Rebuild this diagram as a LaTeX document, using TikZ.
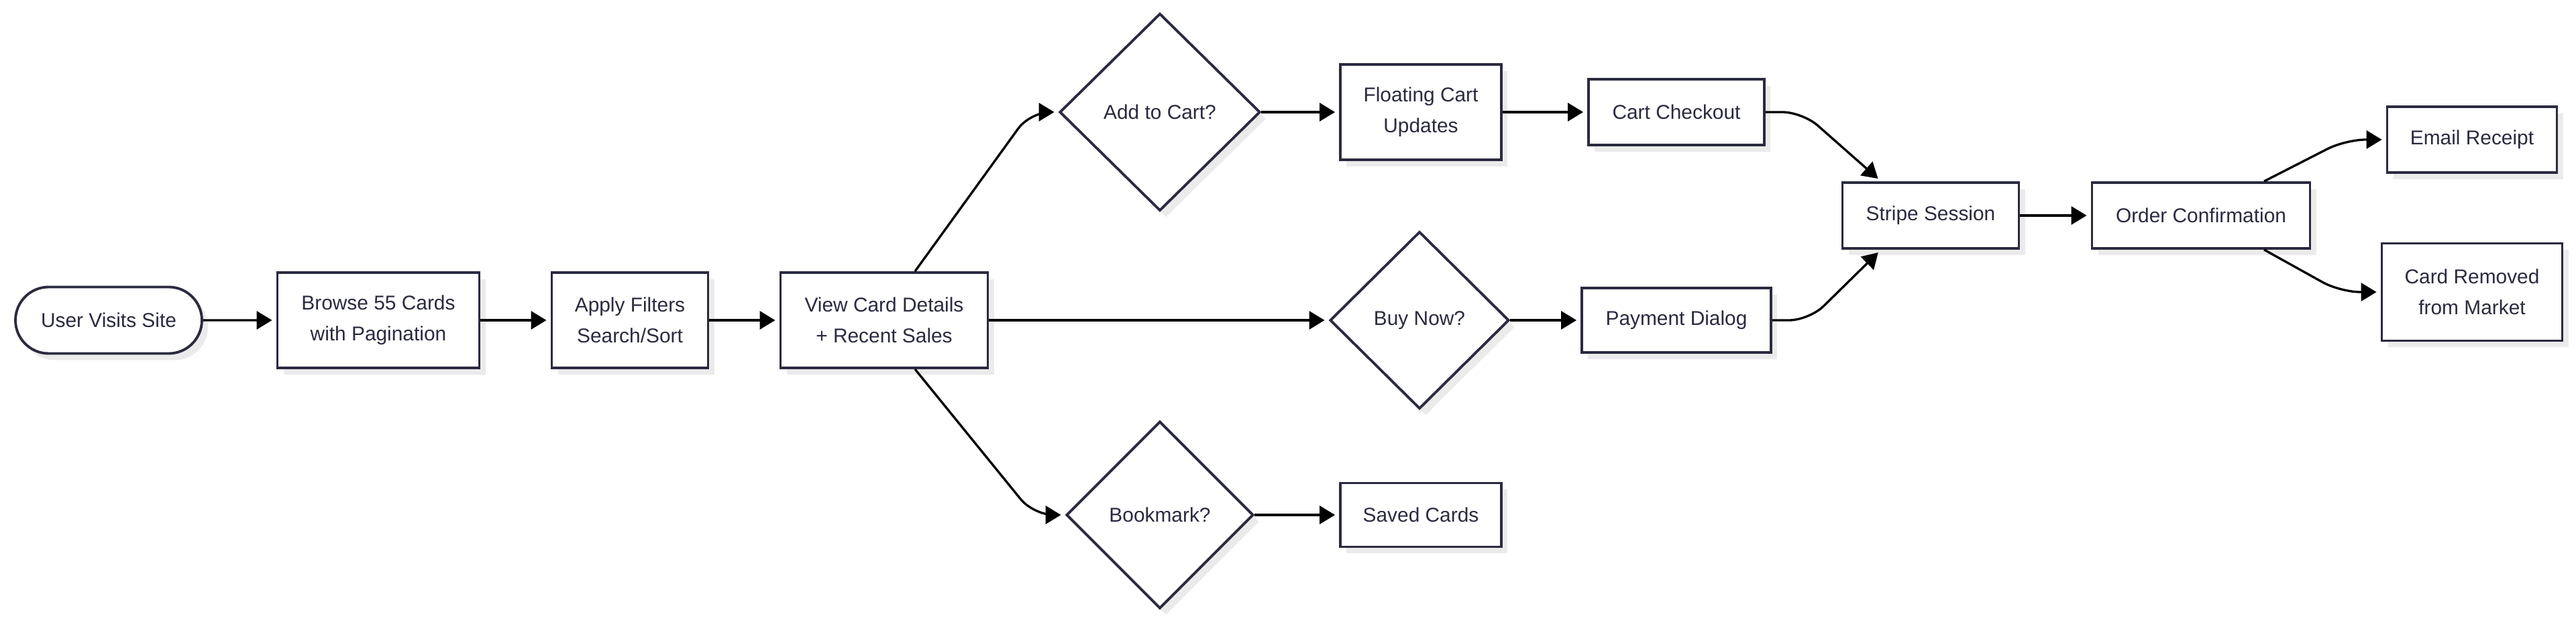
\documentclass[tikz,border=0pt]{standalone}
\usepackage{fontspec}
\setmainfont{Liberation Sans}
\usetikzlibrary{arrows.meta,positioning,calc,shapes.geometric,shapes.misc,shadows}
\definecolor{nodeline}{RGB}{42,42,64}
\tikzset{
  flowarr/.style={-{Triangle[length=2.3mm,width=2.7mm]}, line width=0.95pt, draw=black, shorten >=0.6mm},
  flownode/.style={draw=nodeline, line width=1.1pt, fill=white, text=nodeline, align=center, inner sep=2pt,
    drop shadow={shadow xshift=0.9mm, shadow yshift=-1mm, fill=black!8, opacity=1}},
  flowsmall/.style={font=\fontsize{8.5}{13.2}\selectfont},
}

\begin{document}
\begin{tikzpicture}[
  flowsmall,
  box/.style={flownode, rectangle},
  startbox/.style={flownode, rounded rectangle},
  choice/.style={flownode, diamond},
  bent/.style={flowarr, rounded corners=3mm},
]
  \useasboundingbox (0,0) rectangle (38.4,-9.22);
  \node[startbox, minimum width=2.92cm, minimum height=0.99cm] (visit) at (1.62,-4.77) {User Visits Site};
  \node[box, minimum width=3.01cm, minimum height=1.42cm] (browse) at (5.64,-4.77) {Browse 55 Cards\\with Pagination};
  \node[box, minimum width=2.33cm, minimum height=1.42cm] (filter) at (9.39,-4.77) {Apply Filters\\Search/Sort};
  \node[box, minimum width=3.09cm, minimum height=1.42cm] (details) at (13.18,-4.77) {View Card Details\\+ Recent Sales};
  \node[choice, minimum width=2.99cm, minimum height=2.94cm] (addcart) at (17.29,-1.67) {Add to Cart?};
  \node[choice, minimum width=2.67cm, minimum height=2.64cm] (buynow) at (21.16,-4.77) {Buy Now?};
  \node[choice, minimum width=2.79cm, minimum height=2.79cm] (bookmark) at (17.29,-7.67) {Bookmark?};
  \node[box, minimum width=2.40cm, minimum height=1.42cm] (floatcart) at (21.18,-1.67) {Floating Cart\\Updates};
  \node[box, minimum width=2.62cm, minimum height=0.98cm] (checkout) at (24.99,-1.67) {Cart Checkout};
  \node[box, minimum width=2.82cm, minimum height=0.96cm] (payment) at (24.99,-4.77) {Payment Dialog};
  \node[box, minimum width=2.40cm, minimum height=0.95cm] (saved) at (21.18,-7.67) {Saved Cards};
  \node[box, minimum width=2.63cm, minimum height=0.98cm] (stripe) at (28.78,-3.21) {Stripe Session};
  \node[box, minimum width=3.25cm, minimum height=0.98cm] (confirm) at (32.81,-3.21) {Order Confirmation};
  \node[box, minimum width=2.53cm, minimum height=0.98cm] (receipt) at (36.85,-2.08) {Email Receipt};
  \node[box, minimum width=2.69cm, minimum height=1.45cm] (removed) at (36.85,-4.35) {Card Removed\\from Market};

  \foreach \a/\b in {visit/browse,browse/filter,filter/details,details/buynow,addcart/floatcart,
                     floatcart/checkout,buynow/payment,bookmark/saved,stripe/confirm}
    \draw[flowarr] (\a) -- (\b);

  % branches
  \draw[bent] ([xshift=4.6mm]details.north) -- ($(addcart.west)+(-0.42,0)$) -- (addcart.west);
  \draw[bent] ([xshift=4.6mm]details.south) -- ($(bookmark.west)+(-0.47,0)$) -- (bookmark.west);
  \draw[bent] (checkout.east) -- ($(checkout.east)+(0.55,0)$) -- ([xshift=-7.4mm]stripe.north);
  \draw[bent] (payment.east) -- ($(payment.east)+(0.55,0)$) -- ([xshift=-7.4mm]stripe.south);
  \draw[bent] ([xshift=9.4mm]confirm.north) -- ($(receipt.west)+(-0.6,0)$) -- (receipt.west);
  \draw[bent] ([xshift=9.4mm]confirm.south) -- ($(removed.west)+(-0.6,0)$) -- (removed.west);
\end{tikzpicture}
\end{document}
